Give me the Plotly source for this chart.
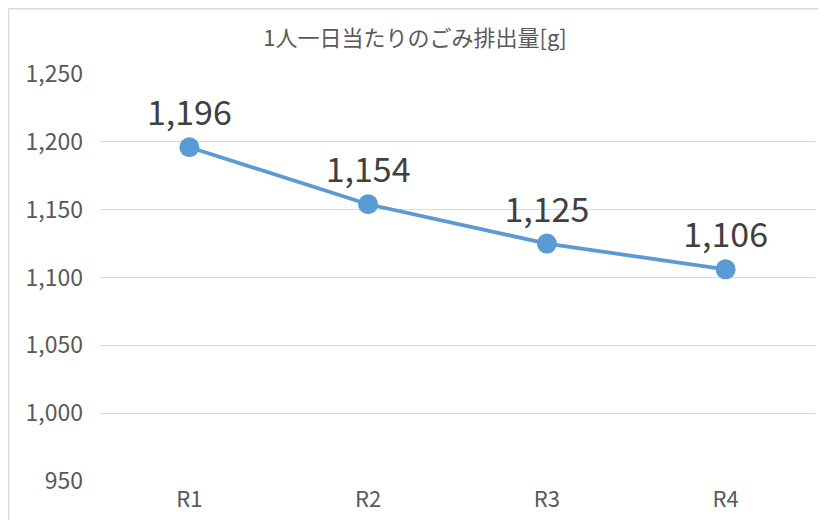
import plotly.graph_objects as go

categories = ["R1", "R2", "R3", "R4"]
values = [1196, 1154, 1125, 1106]
title_text = "1人一日当たりのごみ排出量[g]"
y_ticks = [950, 1000, 1050, 1100, 1150, 1200, 1250]

FONT = "Noto Sans CJK JP"
GRAY = "#595959"

fig = go.Figure()
fig.add_trace(go.Scatter(
    x=categories, y=values,
    mode="lines+markers+text",
    line=dict(color="#5B9BD5", width=3.8),
    marker=dict(color="#5B9BD5", size=20),
    text=[f"{v:,}" for v in values],
    textposition="top center",
    textfont=dict(family=FONT, size=34, color="#404040"),
    cliponaxis=False,
    hoverinfo="skip",
))

# the page has an 8px body margin; compensate so the plot lands where intended
OFF = 8
W, H = 826, 520
L, R, T, B = 100 - OFF, 11 + OFF, 74 - OFF, 39 + OFF
pw, ph = W - L - R, H - T - B

def px_x(p):
    return (p - OFF - L) / pw

def px_y(p):
    return (H - B - (p - OFF)) / ph

fig.update_layout(
    width=W, height=H,
    margin=dict(l=L, r=R, t=T, b=B, pad=0),
    paper_bgcolor="white", plot_bgcolor="white",
    showlegend=False,
    font=dict(family=FONT, color=GRAY),
    title=dict(text=title_text, xref="container", x=(415 - OFF) / W, xanchor="center",
               yref="container", y=1 - (38 - OFF) / H, yanchor="middle",
               font=dict(family=FONT, size=22, color=GRAY)),
    xaxis=dict(type="category", range=[-0.5, 3.5], showgrid=False, showline=False,
               zeroline=False, ticks="", tickfont=dict(family=FONT, size=22, color=GRAY),
               ticklabelstandoff=3),
    yaxis=dict(range=[950, 1250], tickvals=y_ticks,
               ticktext=[f"{v:,}" for v in y_ticks],
               showgrid=True, gridcolor="#D9D9D9", gridwidth=1,
               showline=False, zeroline=False, ticks="",
               tickfont=dict(family=FONT, size=23, color=GRAY),
               ticklabelstandoff=16),
    shapes=[
        dict(type="line", xref="paper", yref="paper",
             x0=px_x(8.5), x1=px_x(8.5), y0=px_y(540), y1=px_y(8.8),
             line=dict(color="#D9D9D9", width=1.5)),
        dict(type="line", xref="paper", yref="paper",
             x0=px_x(8.5), x1=px_x(840), y0=px_y(8.8), y1=px_y(8.8),
             line=dict(color="#D9D9D9", width=1.5)),
    ],
)

fig.write_html("out.html")
